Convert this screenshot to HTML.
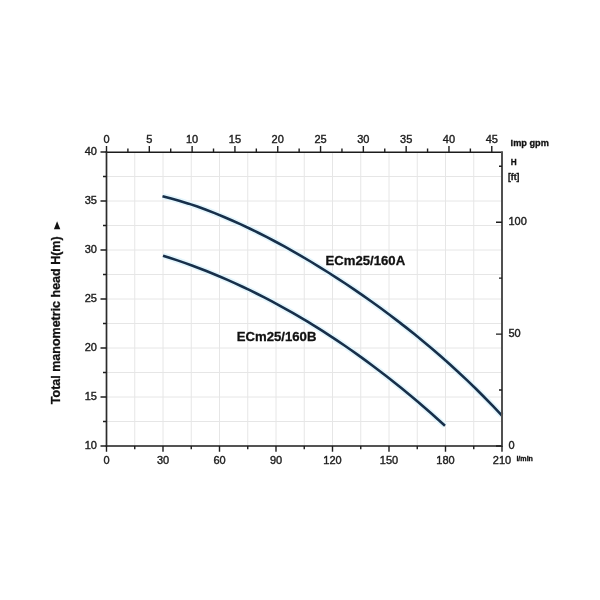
<!DOCTYPE html><html><head><meta charset="utf-8"><style>html,body{margin:0;padding:0;background:#fff;}svg{display:block;}</style></head><body>
<svg width="600" height="600" viewBox="0 0 600 600" font-family="Liberation Sans, Arial, sans-serif">
<rect width="600" height="600" fill="#fff"/>
<path d="M134.75 152.0V446.0M163.00 152.0V446.0M191.25 152.0V446.0M219.50 152.0V446.0M247.75 152.0V446.0M276.00 152.0V446.0M304.25 152.0V446.0M332.50 152.0V446.0M360.75 152.0V446.0M389.00 152.0V446.0M417.25 152.0V446.0M445.50 152.0V446.0M473.75 152.0V446.0M106.5 421.50H502.0M106.5 397.00H502.0M106.5 372.50H502.0M106.5 348.00H502.0M106.5 323.50H502.0M106.5 299.00H502.0M106.5 274.50H502.0M106.5 250.00H502.0M106.5 225.50H502.0M106.5 201.00H502.0M106.5 176.50H502.0" stroke="#e6e6e6" stroke-width="1" fill="none"/>
<path d="M162.50 196.20 L171.21 198.43 L179.91 200.92 L188.62 203.64 L197.32 206.59 L206.03 209.76 L214.73 213.13 L223.44 216.69 L232.14 220.44 L240.85 224.37 L249.55 228.47 L258.26 232.73 L266.96 237.16 L275.67 241.73 L284.37 246.46 L293.08 251.33 L301.78 256.34 L310.49 261.50 L319.19 266.79 L327.90 272.23 L336.60 277.80 L345.31 283.51 L354.01 289.36 L362.72 295.36 L371.42 301.50 L380.13 307.80 L388.83 314.24 L397.54 320.85 L406.24 327.63 L414.95 334.58 L423.65 341.71 L432.36 349.03 L441.06 356.54 L449.77 364.27 L458.47 372.21 L467.18 380.38 L475.88 388.79 L484.59 397.46 L493.29 406.39 L502.00 415.61" stroke="#e4f6fd" stroke-width="6" fill="none"/>
<path d="M163.00 255.67 L170.23 257.98 L177.46 260.38 L184.69 262.89 L191.92 265.50 L199.15 268.21 L206.38 271.03 L213.62 273.95 L220.85 276.98 L228.08 280.11 L235.31 283.35 L242.54 286.70 L249.77 290.15 L257.00 293.71 L264.23 297.38 L271.46 301.15 L278.69 305.04 L285.92 309.03 L293.15 313.14 L300.38 317.36 L307.62 321.68 L314.85 326.12 L322.08 330.67 L329.31 335.34 L336.54 340.12 L343.77 345.01 L351.00 350.02 L358.23 355.14 L365.46 360.37 L372.69 365.73 L379.92 371.20 L387.15 376.78 L394.38 382.49 L401.62 388.31 L408.85 394.25 L416.08 400.31 L423.31 406.50 L430.54 412.80 L437.77 419.22 L445.00 425.76" stroke="#e4f6fd" stroke-width="6" fill="none"/>
<path d="M162.50 196.20 L171.21 198.43 L179.91 200.92 L188.62 203.64 L197.32 206.59 L206.03 209.76 L214.73 213.13 L223.44 216.69 L232.14 220.44 L240.85 224.37 L249.55 228.47 L258.26 232.73 L266.96 237.16 L275.67 241.73 L284.37 246.46 L293.08 251.33 L301.78 256.34 L310.49 261.50 L319.19 266.79 L327.90 272.23 L336.60 277.80 L345.31 283.51 L354.01 289.36 L362.72 295.36 L371.42 301.50 L380.13 307.80 L388.83 314.24 L397.54 320.85 L406.24 327.63 L414.95 334.58 L423.65 341.71 L432.36 349.03 L441.06 356.54 L449.77 364.27 L458.47 372.21 L467.18 380.38 L475.88 388.79 L484.59 397.46 L493.29 406.39 L502.00 415.61" stroke="#172f4a" stroke-width="2.6" fill="none" stroke-linecap="butt"/>
<path d="M163.00 255.67 L170.23 257.98 L177.46 260.38 L184.69 262.89 L191.92 265.50 L199.15 268.21 L206.38 271.03 L213.62 273.95 L220.85 276.98 L228.08 280.11 L235.31 283.35 L242.54 286.70 L249.77 290.15 L257.00 293.71 L264.23 297.38 L271.46 301.15 L278.69 305.04 L285.92 309.03 L293.15 313.14 L300.38 317.36 L307.62 321.68 L314.85 326.12 L322.08 330.67 L329.31 335.34 L336.54 340.12 L343.77 345.01 L351.00 350.02 L358.23 355.14 L365.46 360.37 L372.69 365.73 L379.92 371.20 L387.15 376.78 L394.38 382.49 L401.62 388.31 L408.85 394.25 L416.08 400.31 L423.31 406.50 L430.54 412.80 L437.77 419.22 L445.00 425.76" stroke="#172f4a" stroke-width="2.6" fill="none" stroke-linecap="butt"/>
<path d="M105.7 152.3H502.8M105.7 446.0H502.8" stroke="#1c1c1c" stroke-width="1.5" fill="none"/>
<path d="M106.5 151.6V446.6" stroke="#2c2c2c" stroke-width="1.7" fill="none"/>
<path d="M502.0 151.6V446.6" stroke="#505050" stroke-width="2" fill="none"/>
<path d="M100.5 446.00H106.5M103.0 421.50H106.5M100.5 397.00H106.5M103.0 372.50H106.5M100.5 348.00H106.5M103.0 323.50H106.5M100.5 299.00H106.5M103.0 274.50H106.5M100.5 250.00H106.5M103.0 225.50H106.5M100.5 201.00H106.5M103.0 176.50H106.5M100.5 152.00H106.5M106.50 446.0V451.8M134.75 446.0V449.2M163.00 446.0V451.8M191.25 446.0V449.2M219.50 446.0V451.8M247.75 446.0V449.2M276.00 446.0V451.8M304.25 446.0V449.2M332.50 446.0V451.8M360.75 446.0V449.2M389.00 446.0V451.8M417.25 446.0V449.2M445.50 446.0V451.8M473.75 446.0V449.2M502.00 446.0V451.8M106.50 152.0V146.0M127.90 152.0V148.5M149.31 152.0V146.0M170.71 152.0V148.5M192.12 152.0V146.0M213.52 152.0V148.5M234.93 152.0V146.0M256.33 152.0V148.5M277.74 152.0V146.0M299.14 152.0V148.5M320.55 152.0V146.0M341.95 152.0V148.5M363.35 152.0V146.0M384.76 152.0V148.5M406.16 152.0V146.0M427.57 152.0V148.5M448.97 152.0V146.0M470.38 152.0V148.5M491.78 152.0V146.0M496.0 446.00H502.0M499.0 390.05H502.0M496.0 334.10H502.0M499.0 278.15H502.0M496.0 222.20H502.0M499.0 166.25H502.0" stroke="#1e1e1e" stroke-width="1.4" fill="none"/>
<g font-size="11" fill="#1e1e1e" stroke="#1e1e1e" stroke-width="0.4">
<text x="97" y="449.40" text-anchor="end">10</text>
<text x="97" y="400.40" text-anchor="end">15</text>
<text x="97" y="351.40" text-anchor="end">20</text>
<text x="97" y="302.40" text-anchor="end">25</text>
<text x="97" y="253.40" text-anchor="end">30</text>
<text x="97" y="204.40" text-anchor="end">35</text>
<text x="97" y="155.40" text-anchor="end">40</text>
<text x="106.50" y="463.9" text-anchor="middle">0</text>
<text x="163.00" y="463.9" text-anchor="middle">30</text>
<text x="219.50" y="463.9" text-anchor="middle">60</text>
<text x="276.00" y="463.9" text-anchor="middle">90</text>
<text x="332.50" y="463.9" text-anchor="middle">120</text>
<text x="389.00" y="463.9" text-anchor="middle">150</text>
<text x="445.50" y="463.9" text-anchor="middle">180</text>
<text x="502.00" y="463.9" text-anchor="middle">210</text>
<text x="106.50" y="143.3" text-anchor="middle">0</text>
<text x="149.31" y="143.3" text-anchor="middle">5</text>
<text x="192.12" y="143.3" text-anchor="middle">10</text>
<text x="234.93" y="143.3" text-anchor="middle">15</text>
<text x="277.74" y="143.3" text-anchor="middle">20</text>
<text x="320.55" y="143.3" text-anchor="middle">25</text>
<text x="363.35" y="143.3" text-anchor="middle">30</text>
<text x="406.16" y="143.3" text-anchor="middle">35</text>
<text x="448.97" y="143.3" text-anchor="middle">40</text>
<text x="491.78" y="143.3" text-anchor="middle">45</text>
<text x="508.5" y="449.20">0</text>
<text x="508.5" y="337.30">50</text>
<text x="508.5" y="225.40">100</text>
</g>
<g font-weight="bold" fill="#111" stroke="#111" stroke-width="0.3">
<text x="510.6" y="145.5" font-size="9.2">Imp gpm</text>
<text x="510.8" y="165" font-size="8.2">H</text>
<text x="508" y="179.5" font-size="8.5">[ft]</text>
<text x="516.4" y="460.6" font-size="7.1">l/min</text>
<text x="325.5" y="265.4" font-size="13.15">ECm25/160A</text>
<text x="236.8" y="341.3" font-size="13.15">ECm25/160B</text>
<text transform="translate(60.3 404.2) rotate(-90)" font-size="12.5">Total manometric head H(m)</text>
</g>
<path d="M57.1 221.2L60.3 229.3L53.9 229.3Z" fill="#111"/>
</svg></body></html>
